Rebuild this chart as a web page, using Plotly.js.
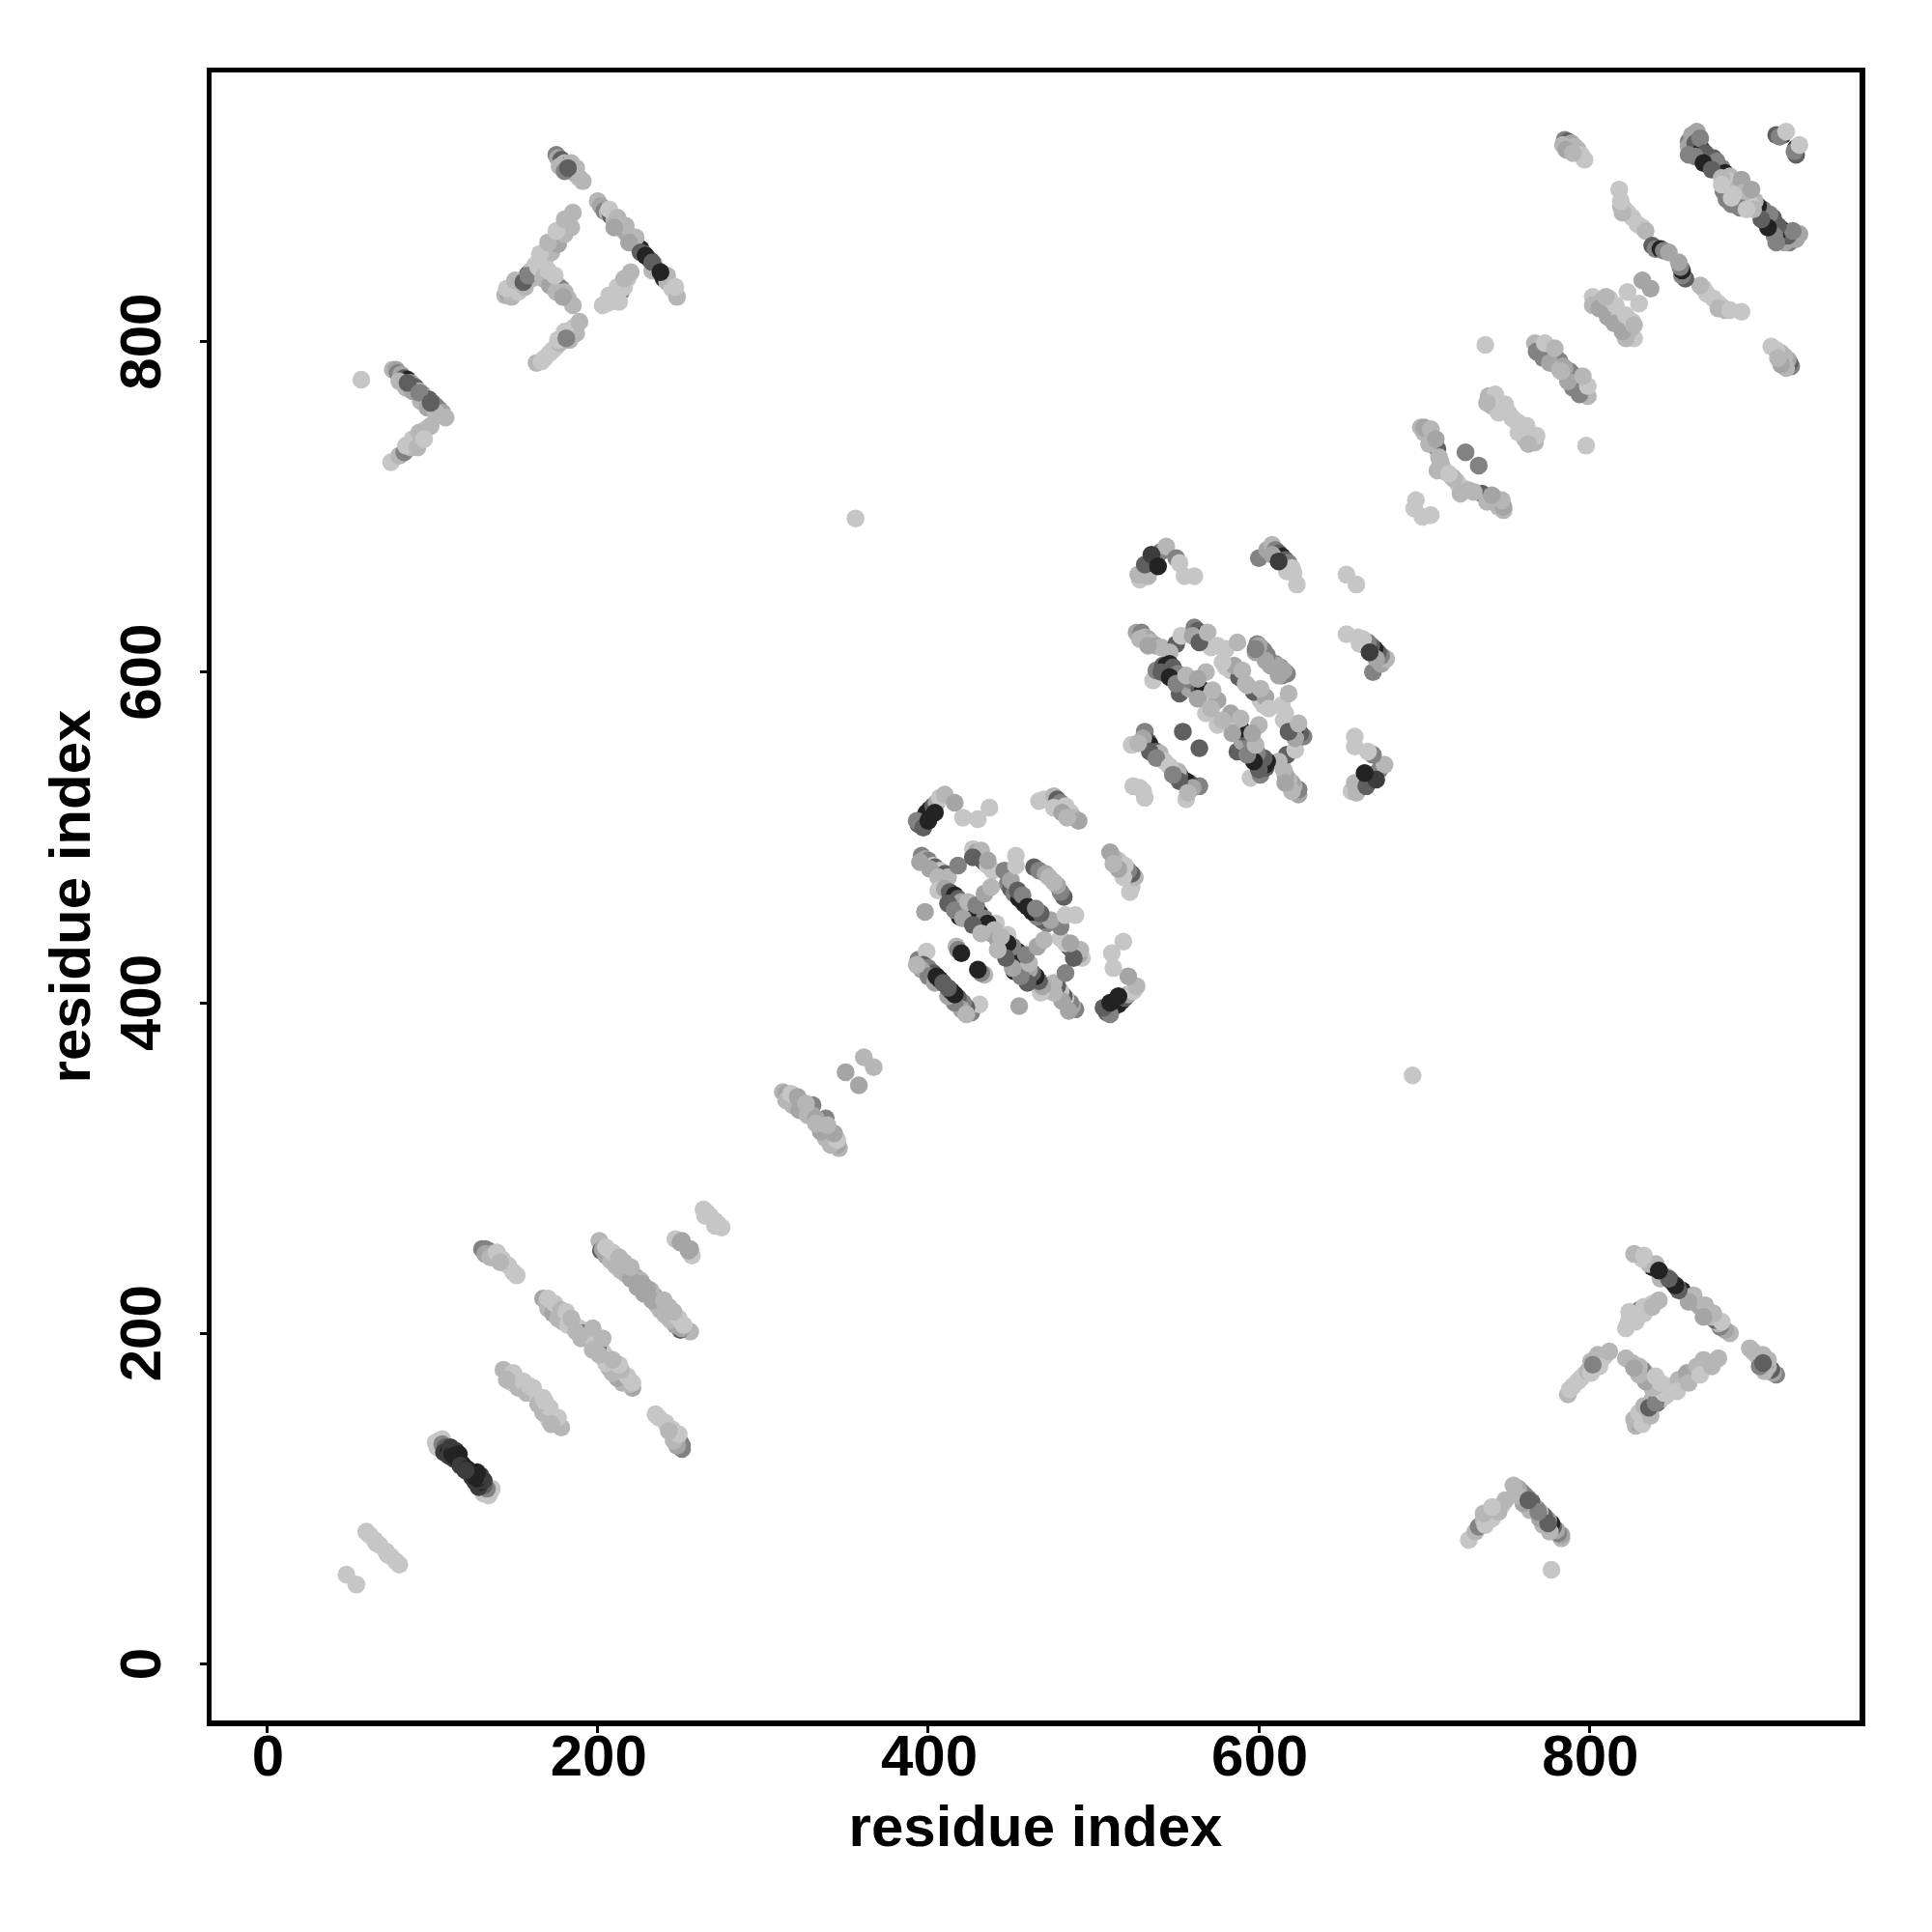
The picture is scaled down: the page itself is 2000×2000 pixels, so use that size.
<!DOCTYPE html>
<html><head><meta charset="utf-8"><script src="https://cdn.plot.ly/plotly-3.0.1.min.js"></script>
<style>html,body{margin:0;padding:0;background:#fff}</style></head><body><div id="chart" style="width:2000px;height:2000px"></div>
<script>
// Each contact: [residue i, residue j, grey level]; i < j. A contact map is symmetric.
const L=198, M=165, D=95, K=35, S=182, N=130, G=60;
const farEnds=[[48,54,L],[60,80,L],[62,78,L],[65,75,L],[66,73,L],[68,72,L],[57,777,L],[356,693,L]];
const strandB=[[102,134,L],[104,135,L],[103,131,L],[106,136,L],[106,133,N],[108,131,D],[107,128,G],[110,129,K],[111,131,G],[110,126,G],[112,127,K],[114,129,G],[113,124,G],[113,126,K],[115,125,K],[116,127,K],[116,123,K],[118,121,K],[117,120,G]];
const strandC=[[143,178,S],[146,175,S],[148,172,L],[150,172,S],[152,170,L],[154,170,L],[155,168,L],[157,168,L],[158,166,L],[160,164,L],[147,171,S],[150,169,L],[152,167,S],[155,171,L],[157,164,S],[159,168,L],[149,176,L],[145,172,S],[161,167,L]];
const strandD=[[167,221,M],[169,219,S],[171,218,N],[173,216,S],[175,215,S],[177,213,N],[179,211,S],[181,210,S],[183,208,S],[185,206,N],[187,204,L],[189,203,L],[191,200,D],[193,198,L],[197,203,S],[170,215,S],[173,212,M],[176,209,S],[179,207,S],[182,205,L],[170,221,L],[174,218,L],[178,214,S],[181,213,L],[184,209,S],[187,201,S],[190,197,S]];
const strandE=[[201,256,S],[202,250,D],[204,249,N],[206,248,L],[209,246,S],[212,244,S],[214,242,S],[216,241,S],[219,238,S],[221,236,S],[223,234,M],[226,232,S],[227,230,M],[203,251,M],[205,247,M],[208,244,S],[211,241,S],[214,238,S],[217,236,S],[220,233,M],[205,252,L],[209,249,L],[213,246,S],[216,243,S],[220,240,S],[224,228,M]];
const strandF=[[130,251,N],[132,251,N],[134,250,N],[136,248,M],[138,247,S],[140,246,L],[142,245,L],[146,241,L],[149,237,L],[151,235,L],[132,248,M],[135,246,S],[139,249,L],[141,243,S]];
const strandG=[[247,257,L],[250,255,M],[251,256,M],[264,275,L],[266,273,L],[268,271,L],[265,271,L]];
const strandI=[[312,346,S],[314,345,M],[316,343,N],[318,342,S],[320,341,M],[322,339,S],[324,337,S],[326,336,M],[329,335,S],[330,338,N],[330,332,M],[350,358,M],[361,367,S],[314,341,S],[318,338,S],[322,335,M],[327,332,S],[317,345,L],[321,343,M],[326,339,S]];
const armA=[[76,783,S],[78,783,M],[79,781,N],[81,780,M],[83,778,D],[85,777,K],[87,775,M],[89,773,N],[90,772,D],[92,770,S],[94,768,N],[96,766,S],[98,765,D],[100,763,N],[102,761,N],[104,759,N],[106,757,M],[108,754,S],[80,776,S],[84,772,S],[88,770,M],[93,764,S],[97,760,M],[102,757,S],[85,775,D],[92,769,N],[99,763,D]];
const armB=[[75,727,L],[80,731,S],[83,733,N],[85,735,N],[87,736,S],[88,738,M],[90,739,S],[92,742,S],[94,745,M],[96,747,L],[99,749,S],[84,737,L],[88,741,L],[92,745,S],[91,736,S],[95,741,L]];
const armK=[[175,913,N],[176,911,M],[178,910,D],[180,908,S],[181,906,K],[183,904,S],[185,903,K],[187,901,S],[189,899,S],[191,897,S],[177,906,S],[180,903,N],[184,908,S],[187,905,S],[182,905,D]];
const armL=[[144,828,S],[146,829,M],[148,832,S],[150,833,M],[152,835,D],[154,837,S],[156,838,N],[158,841,D],[160,843,S],[162,846,L],[164,848,L],[166,851,S],[168,853,S],[170,856,M],[172,859,S],[174,862,S],[176,864,M],[178,867,S],[180,870,S],[182,872,S],[185,878,S],[148,827,S],[152,830,L],[156,833,S],[160,838,S],[164,843,S],[168,849,L],[172,854,S],[176,859,M],[180,865,S],[184,869,S],[145,832,L],[150,837,S],[165,853,L],[170,860,S],[175,867,L],[180,874,S],[155,836,D],[158,840,N]];
const armM=[[164,845,L],[166,843,L],[168,840,S],[170,839,M],[172,838,M],[174,836,S],[176,834,S],[178,832,N],[180,830,S],[182,826,S],[185,822,S],[167,838,S],[171,834,M],[175,830,S],[179,827,M],[170,843,L],[174,840,L]];
const armN=[[163,787,S],[166,788,L],[168,790,L],[171,793,L],[173,795,L],[175,797,L],[177,799,S],[180,802,S],[182,804,N],[184,807,N],[186,809,L],[189,812,S],[183,801,S],[187,805,S],[176,801,L],[180,806,L],[181,802,N]];
const armO=[[200,885,S],[202,882,M],[204,879,N],[206,878,S],[208,876,D],[210,874,S],[212,871,D],[214,869,S],[216,867,S],[218,865,M],[220,862,S],[222,860,N],[224,858,L],[226,856,K],[228,853,N],[230,851,S],[232,849,D],[234,847,S],[236,843,K],[238,841,M],[240,838,K],[242,836,S],[245,832,L],[248,827,S],[207,880,L],[212,875,S],[217,870,S],[223,863,S],[242,840,S],[247,833,L],[210,869,M],[219,860,M],[233,843,S],[226,854,D],[229,852,K],[233,848,D],[238,842,K]];
const armP=[[203,822,L],[205,823,L],[208,824,L],[210,828,S],[212,828,L],[214,830,N],[216,833,L],[218,838,L],[220,842,S],[207,828,L],[212,833,L],[216,838,S],[213,824,L]];
const block1a=[[394,508,D],[396,510,N],[398,513,D],[399,515,K],[401,517,K],[403,519,D],[405,521,M],[407,524,L],[410,526,S],[416,521,M],[421,512,L],[430,511,L],[437,518,L],[467,522,L],[470,523,L],[476,525,S],[478,523,D],[480,521,N],[483,519,L],[484,517,L],[486,515,L],[488,512,S],[491,510,M],[393,510,N],[397,506,D],[400,510,K],[404,515,K],[476,518,L],[481,515,M],[484,512,S]];
const block1b=[[396,489,N],[398,487,M],[400,486,N],[403,483,L],[404,482,D],[407,480,L],[410,478,D],[412,476,S],[418,483,N],[395,485,M],[401,481,M],[406,476,S],[409,473,S]];
const block1c=[[406,468,L],[410,469,M],[413,467,D],[416,465,K],[418,463,D],[420,461,M],[419,452,K],[422,457,L],[426,455,M],[429,454,K],[431,454,K],[434,451,N],[437,448,L],[441,448,L],[436,448,K],[438,442,M],[412,460,D],[416,456,N],[421,451,M],[427,447,D],[432,442,S],[424,461,S],[429,459,N],[440,444,S]];
const block1d=[[427,493,L],[429,491,M],[431,489,D],[432,487,K],[434,485,D],[436,483,L],[439,480,L],[446,480,N],[448,472,N],[450,469,D],[452,466,N],[455,463,K],[458,460,K],[432,492,S],[427,488,D],[436,486,M],[450,474,M],[454,468,D],[457,465,N]];
const block1e=[[453,489,L],[453,483,L],[464,482,D],[467,480,N],[471,478,M],[473,476,S]];
const block1f=[[394,426,N],[396,425,N],[399,431,L],[397,423,D],[400,421,N],[403,418,D],[396,420,M],[400,416,N],[404,412,M],[393,423,S],[405,416,K],[407,414,K],[409,412,D]];
const block1g=[[398,455,M],[417,434,S],[418,432,N],[420,430,K],[434,466,M],[438,470,S]];
const block2a=[[528,656,L],[530,659,S],[531,661,M],[533,664,D],[527,659,S],[533,658,S],[534,666,K],[536,668,K],[538,670,D],[541,673,N],[544,676,S],[550,669,N],[552,666,L],[555,658,L],[561,658,L],[531,665,D],[535,671,G],[539,664,K]];
const block2b=[[600,669,N],[605,674,M],[608,677,S],[610,674,N],[612,672,D],[614,670,K],[616,668,D],[618,666,N],[620,663,L],[621,660,L],[623,653,L],[653,659,L],[617,661,L],[608,671,M],[612,667,G]];
const block2c=[[526,624,M],[529,624,N],[531,621,S],[533,620,M],[535,618,S],[538,616,M],[541,615,S],[550,617,D],[553,622,L],[561,627,N],[563,625,D],[566,622,K],[568,619,D],[571,615,L],[580,614,L],[587,618,S],[528,620,S],[533,616,M],[560,622,M],[564,618,D],[569,624,S],[575,616,L],[546,612,S]];
const block2d=[[599,617,N],[601,615,M],[604,611,M],[610,605,N],[613,603,N],[616,600,M],[580,603,L],[583,601,L],[588,597,D],[592,593,S],[598,612,M],[607,604,M],[614,598,N],[585,604,M],[578,606,L],[590,601,S]];
const block2e=[[536,595,L],[538,601,N],[542,604,D],[544,604,K],[546,605,K],[548,603,D],[551,599,N],[554,595,M],[552,587,D],[558,590,M],[559,595,N],[564,590,D],[566,589,K],[568,600,S],[570,585,L],[575,583,M],[568,575,L],[541,600,D],[546,597,K],[550,593,N],[556,598,S],[563,596,M],[572,589,S],[563,584,M],[571,578,S]];
const block2f=[[523,556,L],[524,531,L],[531,564,N],[533,558,D],[534,556,K],[536,553,K],[538,552,D],[540,551,S],[543,546,L],[554,564,D],[530,560,M],[534,552,D],[538,548,N],[527,557,S],[528,530,L]];
const stripeA=[[694,699,L],[695,704,L],[698,748,S],[700,745,S],[703,743,S],[706,738,M],[708,735,D],[709,730,S],[711,724,L],[713,721,L],[717,718,S],[720,715,L],[725,733,N],[700,748,M],[704,747,S],[703,738,S],[707,741,M],[710,727,S],[708,722,S]];
const stripeB=[[737,798,L],[739,767,S],[742,765,S],[745,762,S],[748,759,L],[751,757,L],[753,754,L],[741,761,S],[745,757,L],[743,768,L],[749,762,L],[738,763,S]];
const stripeC=[[767,799,S],[769,797,S],[772,796,N],[774,795,M],[776,793,N],[778,792,M],[780,790,N],[782,788,N],[784,785,M],[768,794,N],[772,790,N],[776,787,M],[773,799,L],[779,796,S],[782,783,S]];
const stripeD=[[802,827,L],[805,825,L],[808,825,S],[810,822,N],[813,820,D],[815,818,L],[823,830,L],[832,837,M],[802,822,S],[806,820,M],[811,815,M],[812,826,L],[816,822,L],[810,827,S]];
const stripeE=[[818,892,L],[819,882,S],[821,880,S],[823,878,L],[826,875,L],[829,871,L],[832,869,L],[834,867,S],[838,858,D],[840,856,N],[843,856,K],[845,855,N],[848,854,M],[820,878,S],[819,885,L]];
const stripeF=[[785,922,N],[787,921,D],[789,920,M],[791,918,S],[793,916,S],[795,913,L],[797,910,L],[784,919,S],[786,916,M],[790,914,S]];
const stripeG=[[860,921,N],[860,918,M],[862,925,M],[865,927,M],[864,920,D],[866,918,D],[868,916,K],[867,923,N],[870,914,D],[872,912,D],[875,911,D],[877,909,N],[880,905,N],[882,902,K],[885,900,S],[885,891,L],[888,893,L],[884,897,L],[890,893,S],[892,898,M],[860,913,N],[864,912,N],[869,908,K],[874,904,D],[880,899,S],[881,891,N],[883,886,N],[887,886,L],[880,895,L],[889,887,L]];
const stripeH=[[917,925,K],[913,925,D],[915,924,N],[919,927,L]];
const tickValues=[0,200,400,600,800];
const tickLabels=["0","200","400","600","800"];
const axisLabel="residue index";

const contacts=[].concat(farEnds,strandB,strandC,strandD,strandE,strandF,strandG,strandI,armA,armB,armK,armL,armM,armN,armO,armP,
 block1a,block1b,block1c,block1d,block1e,block1f,block1g,block2a,block2b,block2c,block2d,block2e,block2f,
 stripeA,stripeB,stripeC,stripeD,stripeE,stripeF,stripeG,stripeH);
// Both halves of the symmetric map
const xs=contacts.map(c=>c[0]).concat(contacts.map(c=>c[1]));
const ys=contacts.map(c=>c[1]).concat(contacts.map(c=>c[0]));
const greys=contacts.map(c=>c[2]).concat(contacts.map(c=>c[2])).map(g=>`rgb(${g},${g},${g})`);
const font='"Liberation Sans",Arial,sans-serif';
const axisCommon={tickmode:'array',tickvals:tickValues,ticktext:tickLabels,showgrid:false,zeroline:false,showline:true,mirror:true,
 linecolor:'#000',linewidth:5.5,ticks:'outside',ticklen:7,tickwidth:3,tickcolor:'#000',
 tickfont:{family:font,size:60,color:'#000',weight:'bold'}};
Plotly.newPlot('chart',[{type:'scatter',mode:'markers',x:xs,y:ys,hoverinfo:'skip',
 marker:{size:18.5,color:greys,opacity:1,line:{width:0}}}],{
 width:2000,height:2000,showlegend:false,paper_bgcolor:'#fff',plot_bgcolor:'#fff',
 margin:{l:219.3,r:75,t:75,b:219,pad:0},
 xaxis:Object.assign({},axisCommon,{range:[-33.6,963.4],ticklabelstandoff:-28,ticklabelshift:1,title:{text:axisLabel,standoff:21,font:{family:font,size:60,color:'#000',weight:'bold'}}}),
 yaxis:Object.assign({},axisCommon,{range:[-34.2,962.8],tickangle:-90,ticklabelstandoff:17,ticklabelshift:9,title:{text:axisLabel,standoff:0,font:{family:font,size:60,color:'#000',weight:'bold'}}})
},{displayModeBar:false,staticPlot:true});
</script></body></html>
